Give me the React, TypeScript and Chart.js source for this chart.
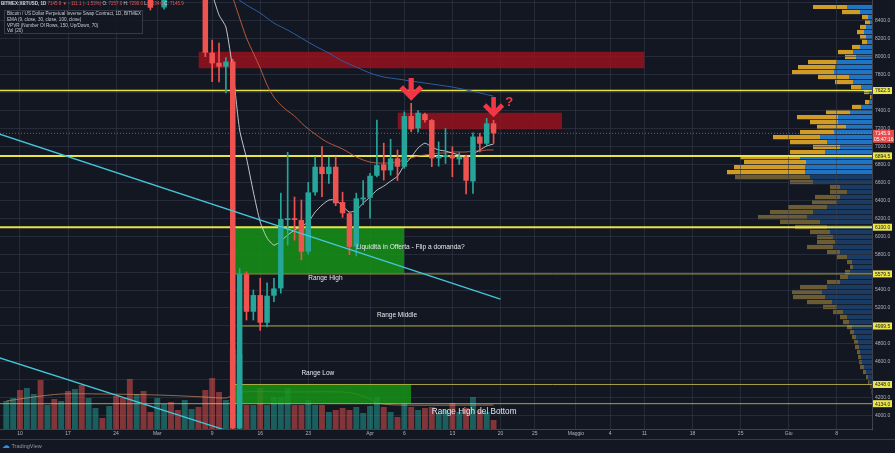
import React, { useEffect, useRef } from 'react';
import { Chart, registerables } from 'chart.js';

Chart.register(...registerables);

const FONT = '"Liberation Sans", Arial, sans-serif';

// ---------------- data ----------------
const dates = [
  '02-08','02-09','02-10','02-11','02-12','02-13','02-14','02-15','02-16','02-17','02-18','02-19','02-20','02-21','02-22','02-23','02-24','02-25','02-26','02-27','02-28','02-29',
  '03-01','03-02','03-03','03-04','03-05','03-06','03-07','03-08','03-09','03-10','03-11','03-12','03-13','03-14','03-15','03-16','03-17','03-18','03-19','03-20','03-21','03-22','03-23','03-24','03-25','03-26','03-27','03-28','03-29','03-30','03-31',
  '04-01','04-02','04-03','04-04','04-05','04-06','04-07','04-08','04-09','04-10','04-11','04-12','04-13','04-14','04-15','04-16','04-17','04-18','04-19'
];
const open = [
  9810,9900,10150,9850,10270,10350,10240,10370,9900,9930,9700,10180,9600,9610,9690,9670,9970,9660,9310,8790,8810,8710,
  8650,8548,8900,8760,8750,9070,9160,8900,8044,7932,7888,7945,3860,5578,5158,5344,5036,5337,5418,6180,6200,6180,5827,6488,6774,6692,6774,6380,6255,5882,6410,
  6428,6673,6800,6733,6867,6774,7338,7201,7360,7293,6867,6880,6905,6856,6885,6610,7110,7030,7257
];
const high = [
  9950,10160,10180,10290,10480,10520,10400,10390,10040,9960,10250,10260,9640,9760,9700,9990,10010,9660,9370,8980,8890,8800,
  8750,8960,8930,8850,9150,9180,9200,8910,8185,8150,7990,7970,5640,5604,5400,5532,5480,5530,6480,6935,6436,6403,6600,6885,6997,6880,6885,6490,6270,6480,6620,
  6700,7294,7037,7080,6960,7385,7480,7400,7370,7300,7050,7200,6996,6930,6904,7150,7145,7313,7290
];
const low = [
  9700,9880,9730,9720,10240,10090,10140,9760,9480,9460,9580,9570,9420,9560,9570,9650,9510,9260,8660,8660,8650,8520,
  8640,8530,8660,8700,8740,9000,8880,8000,7720,7718,7595,3700,3600,5066,5066,4950,4990,5270,5365,5900,5955,5735,5800,6458,6440,6588,6340,6210,5795,5780,6350,
  6200,6660,6625,6680,6620,6755,7163,7160,7270,6774,6780,6810,6662,6800,6470,6477,6940,7010,7034
];
const close = [
  9900,10150,9850,10270,10350,10240,10370,9900,9930,9700,10180,9600,9610,9690,9670,9970,9660,9310,8790,8810,8710,8545,
  8700,8900,8760,8750,9070,9160,8900,8044,7925,7888,7945,3860,5578,5158,5344,5036,5337,5418,6191,6200,6180,5827,6488,6774,6692,6774,6366,6255,5882,6422,6430,
  6673,6792,6733,6867,6774,7338,7190,7375,7293,6867,6893,6905,6867,6885,6618,7110,7030,7257,7145.9
];
const volume = [
  28,31,39,41,35,49,24,30,28,38,40,44,31,21,11,23,33,31,50,35,38,17,
  31,25,27,19,29,20,22,39,51,37,29,80,75,24,24,41,24,32,32,41,24,24,29,24,24,17,19,21,19,22,16,
  23,32,22,17,12,26,22,19,21,22,16,19,26,17,21,32,19,17,9
];

const ema9Start = '03-07';
const ema9 = [8990,8800,8690,8463,8330,7850,7183,6870,6492,6158,5980,5900,5946,6013,6068,6113,6157,6268,6346,6402,6402,6335,6268,6290,6368,6435,6513,6558,6613,6669,6792,6881,6982,7037,6993,6960,6948,6926,6904,6870,6915,6960,7005,7027];
const ema30Start = '03-12';
const ema30 = [8660,8430,8207,8040,7873,7684,7550,7461,7394,7339,7261,7194,7138,7083,7038,7005,6971,6927,6882,6849,6826,6815,6815,6815,6826,6849,6871,6893,6904,6915,6926,6926,6938,6938,6938,6949,6949,6960,6960];
const ema100Start = '03-12';
const ema100 = [8680,null,8575,null,8486,null,8374,null,8296,null,8207,null,8118,null,8040,null,7951,null,7884,null,7817,null,7773,null,7751,null,7728,null,7706,null,7684,null,7661,null,7630,null,7595,null,7560];

const volMaDates = ['02-08','02-12','02-16','02-22','03-01','03-08','03-11','03-12','03-13','03-21','03-28','03-30','04-01','04-02','04-05','04-19'];
const volMaValues = [28,32,35,35,34,32,31,34,37,37,37,35,30,26,24,24];

// horizontal levels (price, from-date or null = full width)
const levelPrices = [7622.5, 6894.5, 6100.0, 5579.5, 4999.5, 4348.0, 4134.0];
const levelFrom = [null, null, null, '03-12', '03-13', '03-12', null];

// rectangles
const boxFrom = ['03-07', '04-05', '03-12', '03-12'];
const boxTo = ['05-11', '04-29', '04-06', '04-07'];
const boxLow = [7870, 7190, 5586, 4134];
const boxHigh = [8055, 7375, 6105, 4348];
const boxKind = ['red', 'red', 'green', 'green'];

// trend lines
const trendFrom = ['02-07', '02-07'];
const trendTo = ['04-20', '03-15'];
const trendStartPrice = [7137, 4645];
const trendEndPrice = [5298, 3740];

// text annotations
const noteTexts = ['Liquidità in Offerta - Flip a domanda?', 'Range High', 'Range Middle', 'Range Low', 'Range High del Bottom'];
const noteDates = ['03-30', '03-23', '04-02', '03-22', '04-10'];
const notePrices = [5876, 5537, 5122, 4476, 4047];

// arrows
const arrowDates = ['04-07', '04-19'];
const arrowTip = [7539, 7350];
const arrowTop = [7762, 7550];
const questionDate = '04-21';
const questionPrice = 7495;

// axis ticks
const priceTicks = [4000,4200,4400,4600,4800,5000,5200,5400,5600,5800,6000,6200,6400,6600,6800,7000,7200,7400,7600,7800,8000,8200,8400,8600];
const hiddenPriceTicks = [4400, 5000, 5600, 7600, 8600];
const xTickDates = ['02-10','02-17','02-24','03-01','03-09','03-16','03-23','04-01','04-06','04-13','04-20','04-25','05-01','05-06','05-11','05-18','05-25','06-01','06-08'];
const xTickLabels = ['10','17','24','Mar','9','16','23','Apr','6','13','20','25','Maggio','4','11','18','25','Giu','8'];
const countdown = '05:47:16';

// volume profile (VPVR) rows
const vpPrice = [8553,8497,8441,8386,8330,8274,8218,8163,8107,8051,7996,7940,7884,7828,7773,7717,7661,7606,7550,7494,7439,7383,7327,7271,7216,7160,7104,7049,6993,6937,6882,6826,6770,6714,6659,6603,6547,6492,6436,6380,6325,6269,6213,6158,6102,6046,5990,5935,5879,5823,5768,5712,5656,5601,5545,5489,5433,5378,5322,5266,5211,5155,5099,5044,4988,4932,4876,4821,4765,4709,4654,4598,4542,4487,4431,4375,4319,4264];
const vpUp = [25,12,4,2,6,8,6,5,12,19,16,35,37,38,23,19,11,3,1,3,11,22,34,34,26,38,52,45,32,47,72,66,67,67,62,59,32,25,32,35,45,59,65,52,45,42,39,37,39,32,25,20,19,22,24,32,45,50,47,40,35,29,25,23,20,18,16,14,13,12,11,10,8,6,4,3,1,0.5];
const vpDown = [34,18,6,5,6,7,6,5,8,15,11,29,37,42,31,18,10,5,1,4,9,24,41,28,29,34,47,37,27,35,60,62,71,78,75,23,10,17,25,25,39,43,49,40,32,20,16,18,26,13,10,5,3,5,8,13,27,30,32,25,14,10,7,6,5,4,4,4,4,3,3,3,4,3,2,1,0.5,0.5];
const vpValueAreaLow = 6680;

// ---------------- layout constants ----------------
const X_MIN = -2.914;
const X_MAX = 124.14;
const Y_MIN = 3852;
const Y_MAX = 8631;

const UP = '#26a69a';
const DOWN = '#ef5350';
const GRID = 'rgba(54,60,78,0.55)';
const TEXT = '#b2b5be';
const NOTE_SIZES = [6.6, 6.5, 6.5, 6.5, 8.2];

const dayIndex = (md: string) => {
  const [m, d] = md.split('-').map(Number);
  return Math.round((Date.UTC(2020, m - 1, d) - Date.UTC(2020, 1, 10)) / 86400000);
};

const seriesPoints = (start: string, vals: (number | null)[]) => {
  const s = dates.indexOf(start);
  return vals.map((v, j) => ({ x: dayIndex(dates[s + j]), y: v }));
};

const annotationPlugin = {
  id: 'annotations',
  afterDatasetsDraw(chart: any) {
    const { ctx, scales } = chart;
    const xs = scales.x;
    const ys = scales.y;
    ctx.save();
    ctx.beginPath();
    ctx.rect(chart.chartArea.left, chart.chartArea.top, chart.chartArea.width, chart.chartArea.height);
    ctx.clip();
    ctx.fillStyle = '#e6e8ee';
    ctx.textBaseline = 'middle';
    ctx.textAlign = 'left';
    noteTexts.forEach((t, k) => {
      ctx.font = `${NOTE_SIZES[k]}px ${FONT}`;
      ctx.fillText(t, xs.getPixelForValue(dayIndex(noteDates[k])), ys.getPixelForValue(notePrices[k]));
    });
    ctx.strokeStyle = '#f23645';
    arrowDates.forEach((d, k) => {
      const x = xs.getPixelForValue(dayIndex(d));
      const yt = ys.getPixelForValue(arrowTip[k]);
      const y0 = ys.getPixelForValue(arrowTop[k]);
      const h = yt - y0;
      const w = h * 0.5;
      ctx.lineWidth = h * 0.26;
      ctx.lineCap = 'butt';
      ctx.lineJoin = 'miter';
      ctx.beginPath();
      ctx.moveTo(x, y0);
      ctx.lineTo(x, yt - 3);
      ctx.stroke();
      ctx.beginPath();
      ctx.moveTo(x - w, yt - w - 1);
      ctx.lineTo(x, yt - 1);
      ctx.lineTo(x + w, yt - w - 1);
      ctx.stroke();
    });
    ctx.fillStyle = '#f23645';
    ctx.font = `bold 13px ${FONT}`;
    ctx.fillText('?', xs.getPixelForValue(dayIndex(questionDate)) - 2, ys.getPixelForValue(questionPrice));
    ctx.restore();
  },
  afterDraw(chart: any) {
    const { ctx, chartArea, scales } = chart;
    const ys = scales.y;
    ctx.save();
    ctx.font = `5px ${FONT}`;
    ctx.textBaseline = 'middle';
    ctx.textAlign = 'left';
    levelPrices.forEach((p) => {
      const py = ys.getPixelForValue(p);
      ctx.fillStyle = '#ece64c';
      ctx.fillRect(chartArea.right + 1, py - 3.5, 19, 7);
      ctx.fillStyle = '#131722';
      ctx.fillText(p.toFixed(1), chartArea.right + 3, py + 0.5);
    });
    const last = close[close.length - 1];
    const cy = ys.getPixelForValue(last);
    ctx.fillStyle = '#e84b4b';
    ctx.fillRect(chartArea.right + 1, cy - 3.5, 21, 13);
    ctx.fillStyle = '#ffffff';
    ctx.fillText(last.toFixed(1), chartArea.right + 3, cy + 0.5);
    ctx.fillText(countdown, chartArea.right + 2, cy + 6.5);
    ctx.restore();
  },
};

export default function App() {
  const mainRef = useRef<HTMLCanvasElement | null>(null);
  const vpRef = useRef<HTMLCanvasElement | null>(null);

  useEffect(() => {
    document.body.style.margin = '0';
    document.body.style.background = '#131722';
    Chart.defaults.font.family = FONT;

    const vpColorUp = vpPrice.map((p) => (p >= vpValueAreaLow ? 'rgba(33,126,210,0.92)' : 'rgba(26,62,104,0.95)'));
    const vpColorDown = vpPrice.map((p) => (p >= vpValueAreaLow ? 'rgba(226,168,38,0.92)' : 'rgba(112,96,54,0.95)'));

    const vpChart = new Chart(vpRef.current as HTMLCanvasElement, {
      type: 'bar',
      data: {
        datasets: [
          {
            label: 'Up',
            data: vpPrice.map((p, k) => ({ y: p, x: [0, vpUp[k]] })) as any,
            backgroundColor: vpColorUp,
            borderWidth: 0,
            barPercentage: 0.86,
            categoryPercentage: 1,
            grouped: false,
          } as any,
          {
            label: 'Down',
            data: vpPrice.map((p, k) => ({ y: p, x: [vpUp[k], vpUp[k] + vpDown[k]] })) as any,
            backgroundColor: vpColorDown,
            borderWidth: 0,
            barPercentage: 0.86,
            categoryPercentage: 1,
            grouped: false,
          } as any,
        ],
      },
      options: {
        indexAxis: 'y',
        responsive: false,
        animation: false,
        events: [],
        layout: { padding: 0 },
        plugins: { legend: { display: false }, tooltip: { enabled: false } },
        scales: {
          y: { type: 'linear', min: Y_MIN, max: Y_MAX, display: false, offset: false },
          x: { type: 'linear', min: 0, max: 872, reverse: true, display: false, offset: false },
        },
      } as any,
    });

    const candleColor = close.map((c, i) => (c >= open[i] ? UP : DOWN));
    const volColor = close.map((c, i) => (c >= open[i] ? 'rgba(38,166,154,0.5)' : 'rgba(239,83,80,0.5)'));

    const datasets: any[] = [];

    datasets.push({
      type: 'bar',
      label: 'Vol',
      yAxisID: 'yVol',
      data: dates.map((d, i) => ({ x: dayIndex(d), y: volume[i] })),
      backgroundColor: volColor,
      borderWidth: 0,
      barPercentage: 0.86,
      categoryPercentage: 1,
      grouped: false,
      order: 100,
    });
    datasets.push({
      type: 'line',
      label: 'Vol MA',
      yAxisID: 'yVol',
      data: volMaDates.map((d, k) => ({ x: dayIndex(d), y: volMaValues[k] })),
      borderColor: 'rgba(214,150,100,0.65)',
      borderWidth: 1,
      pointRadius: 0,
      tension: 0.3,
      order: 95,
    });

    boxFrom.forEach((f, k) => {
      datasets.push({
        type: 'line',
        label: 'box' + k,
        data: [
          { x: dayIndex(f), y: boxLow[k] },
          { x: dayIndex(boxTo[k]), y: boxLow[k] },
        ],
        fill: { value: boxHigh[k] },
        backgroundColor: boxKind[k] === 'red' ? 'rgba(150,18,28,0.85)' : 'rgba(22,150,22,0.82)',
        borderWidth: 0,
        pointRadius: 0,
        order: 90,
      });
    });

    levelPrices.forEach((p, k) => {
      const bright = k < 3;
      datasets.push({
        type: 'line',
        label: 'level' + k,
        data: [
          { x: levelFrom[k] ? dayIndex(levelFrom[k] as string) : X_MIN, y: p },
          { x: X_MAX, y: p },
        ],
        borderColor: bright ? '#e9e34a' : 'rgba(225,215,80,0.72)',
        borderWidth: k === 1 || k === 2 ? 2 : k === 0 ? 1.5 : 1,
        pointRadius: 0,
        order: 80,
      });
    });

    datasets.push({
      type: 'line',
      label: 'last',
      data: [
        { x: X_MIN, y: close[close.length - 1] },
        { x: X_MAX, y: close[close.length - 1] },
      ],
      borderColor: 'rgba(239,120,120,0.6)',
      borderWidth: 1,
      borderDash: [1, 2],
      pointRadius: 0,
      order: 79,
    });

    datasets.push({
      type: 'line',
      label: 'EMA 100',
      data: seriesPoints(ema100Start, ema100),
      borderColor: '#2b5ea6',
      borderWidth: 1,
      pointRadius: 0,
      spanGaps: true,
      tension: 0.3,
      order: 72,
    });
    datasets.push({
      type: 'line',
      label: 'EMA 30',
      data: seriesPoints(ema30Start, ema30),
      borderColor: 'rgba(196,96,66,0.9)',
      borderWidth: 1,
      pointRadius: 0,
      tension: 0.3,
      order: 71,
    });
    datasets.push({
      type: 'line',
      label: 'EMA 9',
      data: seriesPoints(ema9Start, ema9),
      borderColor: 'rgba(225,225,225,0.85)',
      borderWidth: 1,
      pointRadius: 0,
      tension: 0.2,
      order: 70,
    });

    datasets.push({
      type: 'bar',
      label: 'wick',
      data: dates.map((d, i) => ({ x: dayIndex(d), y: [low[i], high[i]] })),
      backgroundColor: candleColor,
      borderWidth: 0,
      barThickness: 1,
      grouped: false,
      order: 20,
    });
    datasets.push({
      type: 'bar',
      label: 'body',
      data: dates.map((d, i) => ({ x: dayIndex(d), y: [open[i], close[i]] })),
      backgroundColor: candleColor,
      borderWidth: 0,
      barPercentage: 0.8,
      categoryPercentage: 1,
      minBarLength: 1,
      grouped: false,
      order: 10,
    });

    trendFrom.forEach((f, k) => {
      datasets.push({
        type: 'line',
        label: 'trend' + k,
        data: [
          { x: dayIndex(f), y: trendStartPrice[k] },
          { x: dayIndex(trendTo[k]), y: trendEndPrice[k] },
        ],
        borderColor: '#45c6d8',
        borderWidth: 1.3,
        pointRadius: 0,
        order: 5,
      });
    });

    const mainChart = new Chart(mainRef.current as HTMLCanvasElement, {
      type: 'bar',
      data: { datasets },
      options: {
        responsive: false,
        animation: false,
        events: [],
        layout: { padding: 0 },
        plugins: { legend: { display: false }, tooltip: { enabled: false } },
        datasets: { bar: { grouped: false } },
        scales: {
          x: {
            type: 'linear',
            min: X_MIN,
            max: X_MAX,
            offset: false,
            afterBuildTicks: (s: any) => {
              s.ticks = xTickDates.map((d) => ({ value: dayIndex(d) }));
            },
            afterFit: (s: any) => {
              s.height = 10;
              s.paddingLeft = 0;
              s.paddingRight = 0;
            },
            ticks: {
              autoSkip: false,
              maxRotation: 0,
              minRotation: 0,
              padding: 2,
              color: TEXT,
              font: { size: 5, family: FONT },
              callback: (_v: any, i: number) => xTickLabels[i],
            },
            grid: { color: GRID, drawTicks: false, offset: false },
            border: { color: 'rgba(120,123,134,0.45)' },
          },
          y: {
            type: 'linear',
            position: 'right',
            min: Y_MIN,
            max: Y_MAX,
            afterBuildTicks: (s: any) => {
              s.ticks = priceTicks.map((v) => ({ value: v }));
            },
            afterFit: (s: any) => {
              s.width = 23;
              s.paddingTop = 0;
              s.paddingBottom = 0;
            },
            ticks: {
              padding: 3,
              color: TEXT,
              font: { size: 5, family: FONT },
              callback: (v: any) => (hiddenPriceTicks.includes(v) ? '' : Number(v).toFixed(1)),
            },
            grid: { color: GRID, drawTicks: false },
            border: { color: 'rgba(120,123,134,0.45)' },
          },
          yVol: {
            type: 'linear',
            display: false,
            min: 0,
            max: 429,
          },
        },
      } as any,
      plugins: [annotationPlugin],
    });

    return () => {
      mainChart.destroy();
      vpChart.destroy();
    };
  }, []);

  const n = close.length - 1;
  const chg = close[n] - close[n - 1];
  const pct = (chg / close[n - 1]) * 100;

  return (
    <div style={{ position: 'relative', width: 895, height: 453, background: '#131722', overflow: 'hidden', fontFamily: FONT }}>
      <div style={{ position: 'absolute', left: 0, top: 0, width: 872, height: 429 }}>
        <canvas ref={vpRef} width={872} height={429} style={{ display: 'block' }} />
      </div>
      <div style={{ position: 'absolute', left: 0, top: 0, width: 895, height: 439 }}>
        <canvas ref={mainRef} width={895} height={439} style={{ display: 'block' }} />
      </div>
      <div style={{ position: 'absolute', left: 0, top: 439, width: 895, height: 1, background: 'rgba(120,123,134,0.35)' }} />
      <div style={{ position: 'absolute', left: 1, top: 0, fontSize: 4.5, lineHeight: '7px', color: '#d1d4dc', whiteSpace: 'nowrap' }}>
        <span style={{ fontWeight: 'bold' }}>BITMEX:XBTUSD, 1D</span>{' '}
        <span style={{ color: '#ef5350' }}>{close[n].toFixed(1)} ▼ −{Math.abs(chg).toFixed(1)} (−{Math.abs(pct).toFixed(2)}%)</span>{' '}
        O: <span style={{ color: '#ef5350' }}>{open[n].toFixed(1)}</span>{' '}
        H: <span style={{ color: '#ef5350' }}>{high[n].toFixed(1)}</span>{' '}
        L: <span style={{ color: '#ef5350' }}>{low[n].toFixed(1)}</span>{' '}
        C: <span style={{ color: '#ef5350' }}>{close[n].toFixed(1)}</span>
      </div>
      <div
        style={{
          position: 'absolute',
          left: 4,
          top: 10,
          width: 139,
          height: 24,
          border: '1px solid rgba(120,123,134,0.35)',
          background: 'rgba(19,23,34,0.85)',
          color: '#c8cbd4',
          fontSize: 4.6,
          lineHeight: '5.8px',
          padding: '0 0 0 2px',
          whiteSpace: 'nowrap',
          boxSizing: 'border-box',
        }}
      >
        <div>Bitcoin / US Dollar Perpetual Inverse Swap Contract, 1D, BITMEX</div>
        <div>EMA (9, close, 30, close, 100, close)</div>
        <div>VPVR (Number Of Rows, 150, Up/Down, 70)</div>
        <div>Vol (20)</div>
      </div>
      <div style={{ position: 'absolute', left: 2, top: 442, fontSize: 5.5, lineHeight: '8px', color: '#9598a1', whiteSpace: 'nowrap' }}>
        <span style={{ color: '#2f8fe6', fontSize: 8 }}>☁</span> TradingView
      </div>
    </div>
  );
}
